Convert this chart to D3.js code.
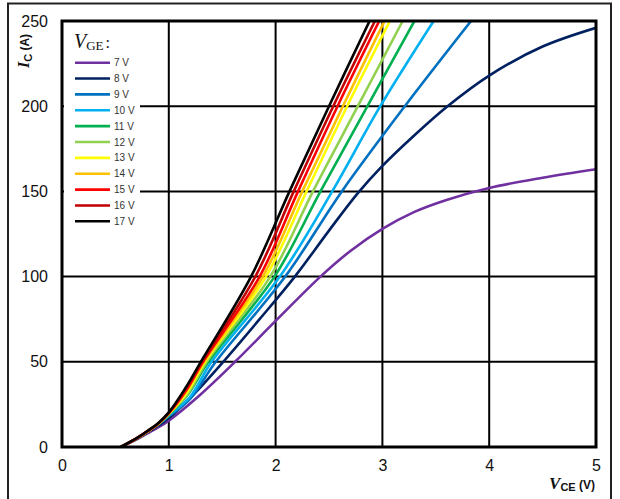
<!DOCTYPE html>
<html><head><meta charset="utf-8">
<script src="https://cdn.jsdelivr.net/npm/d3@7/dist/d3.min.js"></script>
<style>body{margin:0;background:#fff}svg{display:block}</style>
</head><body>
<svg id="c" width="620" height="499"></svg>
<script>
// ---- data ----
const xTicks = [0, 1, 2, 3, 4, 5];
const yTicks = [0, 50, 100, 150, 200, 250];
const vgeLabels = ["7 V","8 V","9 V","10 V","11 V","12 V","13 V","14 V","15 V","16 V","17 V"];
const palette = ["#7030A0","#002060","#0070C0","#00B0F0","#00B050","#92D050","#FFFF00","#FFC000","#FF0000","#C00000","#000000"];
// [VCE (V), IC (A)]
const s7  = [[0.55,0],[0.7,4.5],[0.8,8],[0.9,11.5],[1.0,15.5],[1.3,31],[1.62,50],[2.0,74],[2.42,100],[2.7,115],[3.0,128],[3.3,138],[3.6,145],[4.0,152],[4.5,158],[5.0,163]];
const s8  = [[0.55,0],[0.7,4.8],[0.8,8.5],[0.9,12.5],[1.0,17],[1.25,32],[1.51,50],[1.85,75],[2.18,100],[2.5,127],[2.77,149],[3.0,165],[3.3,183],[3.61,200],[4.0,218],[4.5,235],[5.0,246]];
const s9  = [[0.55,0],[0.7,5],[0.8,9],[0.9,13.2],[1.0,18],[1.2,28.3],[1.44,50],[2.09,100],[2.62,150],[3.21,200],[3.83,250]];
const s10 = [[0.55,0],[0.7,5],[0.8,9],[0.9,13.3],[1.0,18.5],[1.2,29.5],[1.40,50],[2.04,100],[2.53,150],[2.98,200],[3.48,250]];
const s11 = [[0.55,0],[0.7,5],[0.8,9],[0.9,13.4],[1.0,19],[1.18,31],[1.37,50],[1.99,100],[2.42,150],[2.86,200],[3.30,250]];
const s12 = [[0.55,0],[0.7,5],[0.8,9],[0.9,13.5],[1.0,19.2],[1.18,31.5],[1.355,50],[1.95,100],[2.35,150],[2.77,200],[3.19,250]];
const s13 = [[0.55,0],[0.7,5],[0.8,9],[0.9,13.5],[1.0,19.4],[1.17,32],[1.34,50],[1.91,100],[2.29,150],[2.67,200],[3.07,250]];
const s14 = [[0.55,0],[0.7,5.1],[0.8,9.1],[0.9,13.6],[1.0,19.6],[1.16,32.5],[1.33,50],[1.88,100],[2.25,150],[2.63,200],[3.02,250]];
const s15 = [[0.55,0],[0.7,5.1],[0.8,9.2],[0.9,13.7],[1.0,19.8],[1.16,33],[1.32,50],[1.85,100],[2.21,150],[2.58,200],[2.97,250]];
const s16 = [[0.55,0],[0.7,5.2],[0.8,9.3],[0.9,13.8],[1.0,20],[1.15,33.5],[1.31,50],[1.81,100],[2.17,150],[2.54,200],[2.93,250]];
const s17 = [[0.55,0],[0.7,5.2],[0.8,9.4],[0.9,14],[1.0,20.3],[1.15,34],[1.30,50],[1.77,100],[2.13,150],[2.50,200],[2.88,250]];
const seriesList = [s7,s8,s9,s10,s11,s12,s13,s14,s15,s16,s17];

// ---- chart ----
const svg = d3.select("#c");
const x = d3.scaleLinear().domain([0,5]).range([62,596]);
const y = d3.scaleLinear().domain([0,250]).range([447,21]);

// outer frame
svg.append("rect").attr("x",8).attr("y",3.5).attr("width",603).attr("height",520)
  .attr("fill","none").attr("stroke","#222").attr("stroke-width",2);

// grid
const g = svg.append("g");
g.selectAll("line.v").data(xTicks.slice(1,-1)).join("line")
  .attr("x1",d=>x(d)).attr("x2",d=>x(d)).attr("y1",y(0)).attr("y2",y(250))
  .attr("stroke","#000").attr("stroke-width",2);
g.selectAll("line.h").data(yTicks.slice(1,-1)).join("line")
  .attr("y1",d=>y(d)).attr("y2",d=>y(d)).attr("x1",x(0)).attr("x2",x(5))
  .attr("stroke","#000").attr("stroke-width",2);

// legend background
svg.append("rect").attr("x",64).attr("y",23).attr("width",76).attr("height",210).attr("fill","#fff");

// curves
svg.append("clipPath").attr("id","clp").append("rect")
  .attr("x",x(0)).attr("y",y(250)).attr("width",x(5)-x(0)).attr("height",y(0)-y(250));
const line = d3.line().x(d=>x(d[0])).y(d=>y(d[1])).curve(d3.curveCatmullRom.alpha(0.5));
svg.append("g").attr("clip-path","url(#clp)").selectAll("path").data(seriesList).join("path")
  .attr("d",line).attr("fill","none").attr("stroke",(d,i)=>palette[i]).attr("stroke-width",2.6)
  .attr("stroke-linejoin","round");

// plot border
svg.append("rect").attr("x",x(0)).attr("y",y(250)).attr("width",x(5)-x(0)).attr("height",y(0)-y(250))
  .attr("fill","none").attr("stroke","#000").attr("stroke-width",3);

// axes labels
const font = "Liberation Sans, Arial, sans-serif";
const ax = svg.append("g").attr("transform",`translate(0,${y(0)})`)
  .call(d3.axisBottom(x).tickValues(xTicks).tickSize(0).tickPadding(13).tickFormat(d3.format("d")));
const ay = svg.append("g").attr("transform",`translate(${x(0)},0)`)
  .call(d3.axisLeft(y).tickValues(yTicks).tickSize(0).tickPadding(14).tickFormat(d3.format("d")));
[ax,ay].forEach(a=>{ a.select(".domain").remove();
  a.selectAll("text").attr("font-family",font).attr("font-size",16).attr("fill","#111"); });

// legend
const lg = svg.append("g");
const t = lg.append("text").attr("x",74).attr("y",48).attr("fill","#111").attr("font-family","Liberation Serif, serif");
t.append("tspan").attr("font-style","italic").attr("font-size",20).text("V");
t.append("tspan").attr("font-size",13).attr("dy",2).text("GE");
t.append("tspan").attr("font-size",16).attr("dy",-2).attr("dx",2).text(":");
const rows = lg.selectAll("g.r").data(vgeLabels).join("g")
  .attr("transform",(d,i)=>`translate(0,${62.7 + i*15.86})`);
rows.append("line").attr("x1",75).attr("x2",110).attr("stroke",(d,i)=>palette[i]).attr("stroke-width",2.6);
rows.append("text").attr("x",114).attr("y",3.5).attr("font-family",font).attr("font-size",10)
  .attr("fill","#333").text(d=>d);

// y title
const yt = svg.append("text").attr("transform","translate(29,51) rotate(-90)")
  .attr("text-anchor","middle").attr("font-weight","bold").attr("fill","#111");
yt.append("tspan").attr("font-family","Liberation Serif, serif").attr("font-style","italic").attr("font-size",16).text("I");
yt.append("tspan").attr("font-family",font).attr("font-size",11).attr("dy",3).text("C");
yt.append("tspan").attr("font-family",font).attr("font-size",12).attr("dy",-3).text(" (A)");

// x title
const xt = svg.append("text").attr("x",595).attr("y",489).attr("text-anchor","end")
  .attr("font-weight","bold").attr("fill","#111");
xt.append("tspan").attr("font-family","Liberation Serif, serif").attr("font-style","italic").attr("font-size",17).text("V");
xt.append("tspan").attr("font-family",font).attr("font-size",11).attr("dy",2).text("CE");
xt.append("tspan").attr("font-family",font).attr("font-size",12).attr("dy",-2).text(" (V)");
</script>
</body></html>
